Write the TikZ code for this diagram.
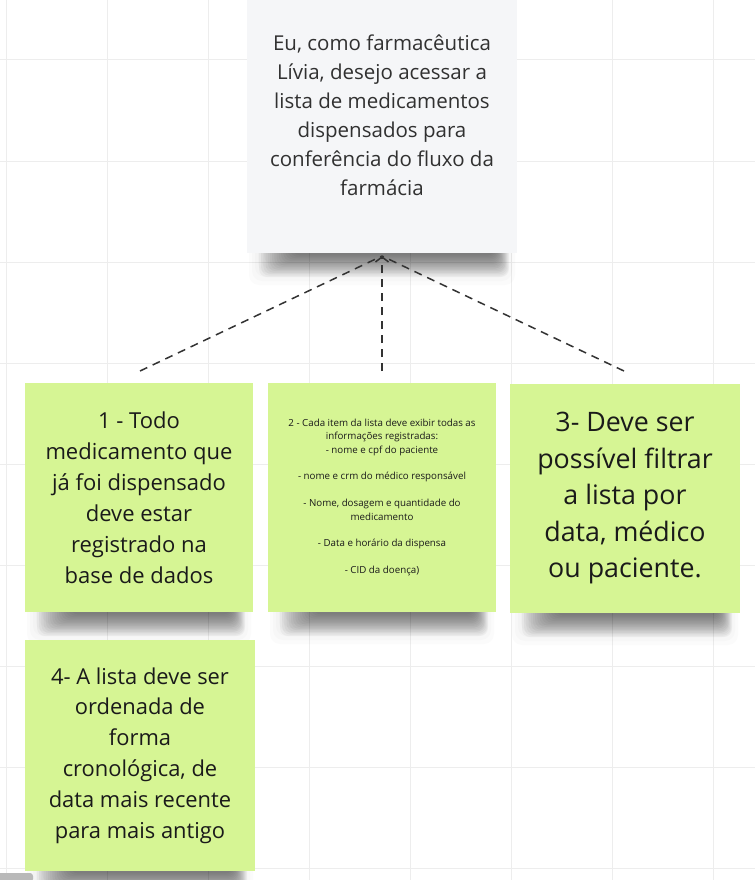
\documentclass[tikz,border=0pt]{standalone}
\usepackage{fontspec}
\setmainfont{Open Sans}
\usetikzlibrary{arrows.meta,calc,backgrounds}
\definecolor{sticky}{HTML}{D6F594}
\definecolor{topnote}{HTML}{F5F6F8}
\definecolor{gridc}{HTML}{EDEDED}
\definecolor{inkc}{HTML}{1A1A1A}
\definecolor{linkc}{HTML}{333333}
% soft shadow below a note: left x, right x, bottom y
\newcommand\noteshadow[3]{%
  \foreach \k in {0,...,5}{%
    \fill[black,opacity=0.014,rounded corners=10pt]
      ({#1+2+\k*3},{#3-20}) rectangle ({#2-2-\k*3},{#3+32-\k*4});
  }%
  \foreach \k in {0,...,15}{%
    \fill[black,opacity=0.036,rounded corners=8pt]
      ({#1+12+\k*2.2},{#3-25}) rectangle ({#2-8-\k*0.9},{#3+24-\k*1.45});
  }}
\tikzset{
  stickynote/.style={fill=sticky, inner sep=0pt, align=center, text=inkc,
    minimum width=229pt, minimum height=229pt},
  topstyle/.style={fill=topnote, inner sep=0pt, align=center, text=inkc!90,
    minimum width=270pt, minimum height=276pt},
  link/.style={draw=linkc, line width=1.5pt, dash pattern=on 8pt off 6pt}
}
\begin{document}
\begin{tikzpicture}[x=1pt,y=-1pt]
\useasboundingbox (0,0) rectangle (755,880);
\fill[white] (0,0) rectangle (755,880);
% grid
\foreach \x in {6,107,...,713} \draw[gridc,line width=1pt] (\x,0) -- (\x,880);
\foreach \y in {60,161,...,868} \draw[gridc,line width=1pt] (0,\y) -- (755,\y);
% shadows
\noteshadow{247}{517}{253}
\noteshadow{25}{253}{612}
\noteshadow{268}{496}{612}
\noteshadow{510}{740}{613}
\noteshadow{25}{255}{871}
% notes
\node[topstyle, font=\fontsize{20.5}{29}\selectfont] (top) at (382,115)
  {Eu, como farmacêutica\\Lívia, desejo acessar a\\lista de medicamentos\\dispensados para\\conferência do fluxo da\\farmácia};
\node[stickynote, minimum width=228pt, font=\fontsize{22}{31}\selectfont] (s1) at (139,497.5)
  {1 - Todo\\medicamento que\\já foi dispensado\\deve estar\\registrado na\\base de dados};
\node[stickynote, minimum width=228pt, font=\fontsize{9.75}{13.4}\selectfont] (s2) at (382,497.5)
  {2 - Cada item da lista deve exibir todas as\\informações registradas:\\- nome e cpf do paciente\\[13.4pt]- nome e crm do médico responsável\\[13.4pt]- Nome, dosagem e quantidade do\\medicamento\\[13.4pt]- Data e horário da dispensa\\[13.4pt]- CID da doença)};
\node[stickynote, minimum width=230pt, font=\fontsize{26.8}{36.5}\selectfont] (s3) at (625,498.5)
  {3- Deve ser\\possível filtrar\\a lista por\\data, médico\\ou paciente.};
\node[stickynote, minimum width=230pt, minimum height=231pt, font=\fontsize{21.9}{30.8}\selectfont] (s4) at (140,755.5)
  {4- A lista deve ser\\ordenada de\\forma\\cronológica, de\\data mais recente\\para mais antigo};
% connectors
\coordinate (e1) at (140,371);
\coordinate (e2) at (382,371);
\coordinate (e3) at (624,371);
\coordinate (tip) at (382,256);
\draw[link] (e1) -- (tip);
\draw[link] (e3) -- (tip);
\draw[link, -{Straight Barb[length=5pt,width=13pt]}] (e2) -- (tip);
% scrollbar
\fill[gray!55, rounded corners=3pt] (-5,873) rectangle (33,882);
\end{tikzpicture}
\end{document}
